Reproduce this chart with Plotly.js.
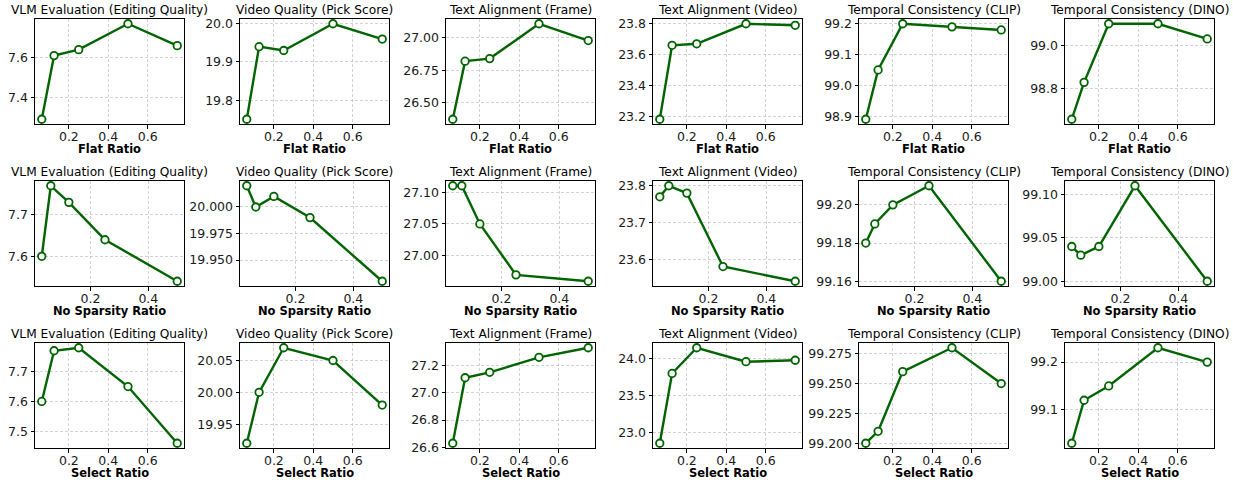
<!DOCTYPE html>
<html>
<head>
<meta charset="utf-8">
<script src="https://cdn.plot.ly/plotly-3.0.1.min.js"></script>
<style>html,body{margin:0;padding:0;background:#fff;}#chart{width:1233px;height:480px;}</style>
</head>
<body>
<div id="chart"></div>
<script>
// ---- data ----
const metricTitles = ["VLM Evaluation (Editing Quality)", "Video Quality (Pick Score)", "Text Alignment (Frame)", "Text Alignment (Video)", "Temporal Consistency (CLIP)", "Temporal Consistency (DINO)"];
const rowLabels = ["Flat Ratio", "No Sparsity Ratio", "Select Ratio"];

const flatRatio = [0.0625, 0.125, 0.25, 0.5, 0.75];
const noSparsityRatio = [0.03125, 0.0625, 0.125, 0.25, 0.5];
const selectRatio = [0.0625, 0.125, 0.25, 0.5, 0.75];

const flatVLM   = [7.29, 7.61, 7.64, 7.77, 7.66];
const flatPick  = [19.75, 19.94, 19.93, 20.00, 19.96];
const flatFrame = [26.37, 26.82, 26.84, 27.11, 26.98];
const flatVideo = [23.18, 23.66, 23.67, 23.80, 23.79];
const flatCLIP  = [98.89, 99.05, 99.20, 99.19, 99.18];
const flatDINO  = [98.66, 98.83, 99.10, 99.10, 99.03];

const nsVLM   = [7.60, 7.77, 7.73, 7.64, 7.54];
const nsPick  = [20.02, 20.00, 20.01, 19.99, 19.93];
const nsFrame = [27.11, 27.11, 27.05, 26.97, 26.96];
const nsVideo = [23.77, 23.80, 23.78, 23.58, 23.54];
const nsCLIP  = [99.18, 99.19, 99.20, 99.21, 99.16];
const nsDINO  = [99.04, 99.03, 99.04, 99.11, 99.00];

const selVLM   = [7.60, 7.77, 7.78, 7.65, 7.46];
const selPick  = [19.92, 20.00, 20.07, 20.05, 19.98];
const selFrame = [26.63, 27.11, 27.15, 27.26, 27.33];
const selVideo = [22.85, 23.80, 24.15, 23.96, 23.98];
const selCLIP  = [99.20, 99.21, 99.26, 99.28, 99.25];
const selDINO  = [99.03, 99.12, 99.15, 99.23, 99.20];

// y tick step / format per panel
const yDticks = [
  [0.2, 0.1, 0.25, 0.2, 0.1, 0.2],
  [0.1, 0.025, 0.05, 0.1, 0.02, 0.05],
  [0.1, 0.05, 0.2, 0.5, 0.025, 0.1]
];
const yFormats = [
  [".1f", ".1f", ".2f", ".1f", ".1f", ".1f"],
  [".1f", ".3f", ".2f", ".1f", ".2f", ".2f"],
  [".1f", ".2f", ".1f", ".1f", ".3f", ".1f"]
];

const rowsX = [flatRatio, noSparsityRatio, selectRatio];
const rowsY = [
  [flatVLM, flatPick, flatFrame, flatVideo, flatCLIP, flatDINO],
  [nsVLM, nsPick, nsFrame, nsVideo, nsCLIP, nsDINO],
  [selVLM, selPick, selFrame, selVideo, selCLIP, selDINO]
];

// ---- layout geometry (pixels) ----
const W = 1233, H = 480;
const colLeft = [35, 240, 446, 653, 859, 1065];
const colWidth = 149;
const rowTop = [19, 181, 343];
const rowHeight = 105;

const FONT = "DejaVu Sans";
const GREEN = "#006400";

const traces = [];
const layout = {
  width: W, height: H,
  margin: {l: 0, r: 0, t: 0, b: 0},
  paper_bgcolor: "#fff", plot_bgcolor: "#fff",
  showlegend: false,
  font: {family: FONT, size: 12, color: "#000"},
  annotations: []
};

function pad(arr) {
  const mn = Math.min(...arr), mx = Math.max(...arr);
  const m = (mx - mn) * 0.05;
  return [mn - m, mx + m];
}

let k = 0;
for (let r = 0; r < 3; r++) {
  for (let c = 0; c < 6; c++) {
    k++;
    const xa = k === 1 ? "x" : "x" + k;
    const ya = k === 1 ? "y" : "y" + k;
    traces.push({
      type: "scatter", mode: "lines+markers",
      x: rowsX[r], y: rowsY[r][c],
      xaxis: xa, yaxis: ya,
      line: {color: GREEN, width: 2.4},
      marker: {symbol: "circle", size: 7.5, color: "#fff", line: {color: GREEN, width: 1.8}},
      cliponaxis: false,
      hoverinfo: "x+y"
    });
    const x0 = colLeft[c] / W, x1 = (colLeft[c] + colWidth) / W;
    const y1 = 1 - rowTop[r] / H, y0 = 1 - (rowTop[r] + rowHeight) / H;
    const common = {
      showline: true, linecolor: "#000", linewidth: 1, mirror: true,
      ticks: "outside", ticklen: 3.5, tickwidth: 1, tickcolor: "#000",
      showgrid: true, gridcolor: "rgba(176,176,176,0.7)", griddash: "3px,2px", gridwidth: 0.8,
      zeroline: false,
      tickfont: {family: FONT, size: 12.5, color: "#1a1a1a"},
      fixedrange: true
    };
    layout["xaxis" + (k === 1 ? "" : k)] = Object.assign({}, common, {
      domain: [x0, x1], anchor: ya,
      range: pad(rowsX[r]),
      tick0: 0, dtick: 0.2, tickformat: ".1f",
      ticklabelstandoff: -3
    });
    layout["yaxis" + (k === 1 ? "" : k)] = Object.assign({}, common, {
      domain: [y0, y1], anchor: xa,
      range: pad(rowsY[r][c]),
      tick0: 0, dtick: yDticks[r][c], tickformat: yFormats[r][c]
    });
    // panel title
    layout.annotations.push({
      text: metricTitles[c], xref: "paper", yref: "paper",
      x: (x0 + x1) / 2, y: y1, xanchor: "center", yanchor: "bottom",
      yshift: 0, showarrow: false,
      font: {family: FONT, size: 12.2, color: "#000"}
    });
    // x axis label
    layout.annotations.push({
      text: "<b>" + rowLabels[r] + "</b>", xref: "paper", yref: "paper",
      x: (x0 + x1) / 2, y: y0, xanchor: "center", yanchor: "middle",
      yshift: -25, showarrow: false,
      font: {family: FONT, size: 11.5, color: "#000"}
    });
  }
}

Plotly.newPlot("chart", traces, layout, {displayModeBar: false, staticPlot: true});
</script>
</body>
</html>
